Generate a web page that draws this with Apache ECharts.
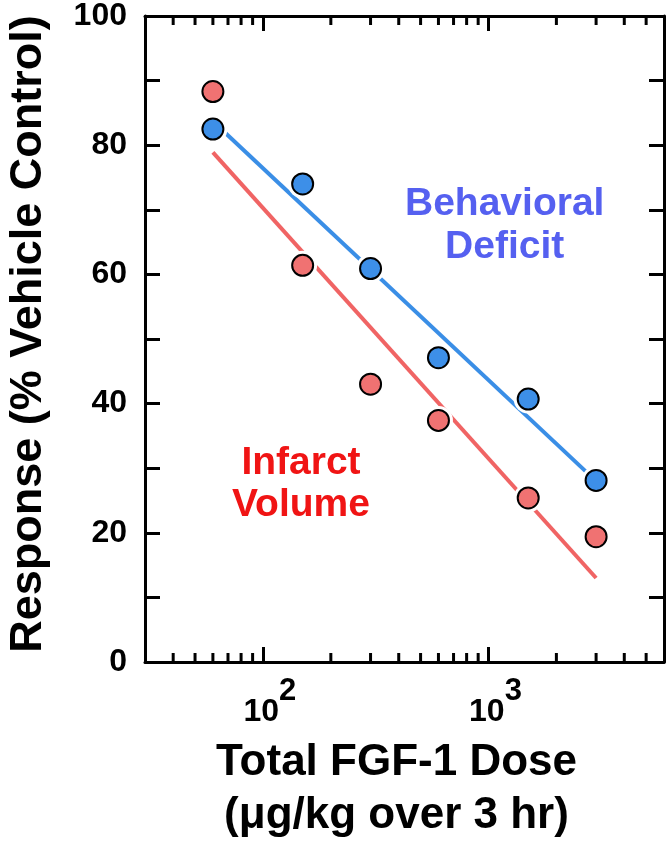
<!DOCTYPE html>
<html><head><meta charset="utf-8">
<script src="https://cdn.jsdelivr.net/npm/echarts@6/dist/echarts.min.js"></script>
<style>html,body{margin:0;padding:0;background:#fff}#c{width:666px;height:844px}</style>
</head><body><div id="c"></div>
<script>
// ---- data ----
const doses = [60, 150, 300, 600, 1500, 3000];
const behavioralDeficit = [82.5, 74.0, 60.9, 47.1, 40.7, 28.1];
const infarctVolume = [88.3, 61.4, 43.0, 37.4, 25.4, 19.4];
const fitDoses = [60, 3000];
const behavioralFit = [83.7, 28.0];
const infarctFit = [78.9, 13.0];
const minorXTicks = [40, 50, 60, 70, 80, 90, 200, 300, 400, 500, 600, 700, 800, 900, 2000, 3000, 4000, 5000];
const yLabels = [0, 20, 40, 60, 80, 100];

const FONT = "'Liberation Sans', Arial, Helvetica, sans-serif";
const chart = echarts.init(document.getElementById('c'), null, {renderer: 'canvas'});

const toPairs = (xs, ys) => xs.map((x, i) => [x, ys[i]]);
const expOf = v => Math.round(Math.log10(v));

const xBase = {
  type: 'log', logBase: 10, min: 30, max: 6000,
  axisLine: {show: true, onZero: false, lineStyle: {color: '#000', width: 3}},
  axisTick: {show: true, inside: true, length: 15, lineStyle: {color: '#000', width: 3}},
  splitLine: {show: false}
};
const yBase = {
  type: 'value', min: 0, max: 100, interval: 10,
  axisLine: {show: true, onZero: false, lineStyle: {color: '#000', width: 3}},
  axisTick: {show: true, inside: true, length: 15, lineStyle: {color: '#000', width: 3}},
  splitLine: {show: false}
};

chart.setOption({
  animation: false,
  backgroundColor: '#fff',
  grid: {left: 145, right: 2, top: 16, bottom: 182, containLabel: false, outerBoundsMode: 'none'},
  xAxis: [
    Object.assign({}, xBase, {
      position: 'bottom',
      axisLabel: {
        show: true, margin: 14, showMinLabel: false, showMaxLabel: false,
        fontFamily: FONT, fontWeight: 'bold', fontSize: 32, color: '#000',
        formatter: v => '{mant|10}{expo|' + expOf(v) + '}',
        padding: [0, 0, 0, 14],
        rich: {
          mant: {fontFamily: FONT, fontWeight: 'bold', fontSize: 32, lineHeight: 52, color: '#000', verticalAlign: 'bottom'},
          expo: {fontFamily: FONT, fontWeight: 'bold', fontSize: 31, lineHeight: 31, color: '#000', verticalAlign: 'top'}
        }
      },
      name: 'Total FGF-1 Dose\n(\u03bcg/kg over 3 hr)',
      nameLocation: 'middle', nameGap: 74,
      nameTextStyle: {fontFamily: FONT, fontWeight: 'bold', fontSize: 44, lineHeight: 53, color: '#000', padding: [0, 16, 0, 0]}
    }),
    Object.assign({}, xBase, {position: 'top', axisLabel: {show: false}})
  ],
  yAxis: [
    Object.assign({}, yBase, {
      position: 'left',
      axisLabel: {
        show: true, margin: 18,
        formatter: v => (yLabels.indexOf(v) >= 0 ? String(v) : ''),
        fontFamily: FONT, fontWeight: 'bold', fontSize: 32, color: '#000'
      },
      name: 'Response (% Vehicle Control)',
      nameLocation: 'middle', nameGap: 94, nameRotate: 90,
      nameTextStyle: {fontFamily: FONT, fontWeight: 'bold', fontSize: 45, color: '#000', padding: [0, 0, 0, 10]}
    }),
    Object.assign({}, yBase, {position: 'right', axisLabel: {show: false}})
  ],
  graphic: [
    {type: 'text', left: 405, top: 183, z: 10,
     style: {text: 'Behavioral\nDeficit', fill: '#5560f0', font: 'bold 39px ' + FONT, textAlign: 'center', lineHeight: 43}},
    {type: 'text', left: 232, top: 442, z: 10,
     style: {text: 'Infarct\nVolume', fill: '#f01414', font: 'bold 39px ' + FONT, textAlign: 'center', lineHeight: 42}}
  ],
  series: [
    {
      type: 'custom', name: 'minorTicks', xAxisIndex: 0, yAxisIndex: 0, silent: true, z: 6, clip: false,
      data: minorXTicks.map(v => [v, 0]),
      renderItem: (params, api) => {
        const v = api.value(0);
        const b = api.coord([v, 0]);
        const t = api.coord([v, 100]);
        return {type: 'group', children: [
          {type: 'line', shape: {x1: b[0], y1: b[1], x2: b[0], y2: b[1] - 9}, style: {stroke: '#000', lineWidth: 3}},
          {type: 'line', shape: {x1: t[0], y1: t[1], x2: t[0], y2: t[1] + 9}, style: {stroke: '#000', lineWidth: 3}}
        ]};
      }
    },
    {type: 'line', name: 'Infarct fit', data: toPairs(fitDoses, infarctFit), symbol: 'none', z: 2,
     lineStyle: {color: '#f06464', width: 4}},
    {type: 'line', name: 'Behavioral fit', data: toPairs(fitDoses, behavioralFit), symbol: 'none', z: 2,
     lineStyle: {color: '#3a8ee6', width: 4}},
    {type: 'scatter', name: 'halo B', data: toPairs(doses, behavioralDeficit), symbolSize: 29, z: 3, silent: true,
     itemStyle: {color: '#fff', opacity: 1}},
    {type: 'scatter', name: 'halo I', data: toPairs(doses, infarctVolume), symbolSize: 29, z: 3, silent: true,
     itemStyle: {color: '#fff', opacity: 1}},
    {type: 'scatter', name: 'Behavioral Deficit', data: toPairs(doses, behavioralDeficit), symbolSize: 21, z: 4,
     itemStyle: {color: '#3d8fe8', borderColor: '#000', borderWidth: 2, opacity: 1}},
    {type: 'scatter', name: 'Infarct Volume', data: toPairs(doses, infarctVolume), symbolSize: 21, z: 4,
     itemStyle: {color: '#f07272', borderColor: '#000', borderWidth: 2, opacity: 1}}
  ]
});
</script>
</body></html>
